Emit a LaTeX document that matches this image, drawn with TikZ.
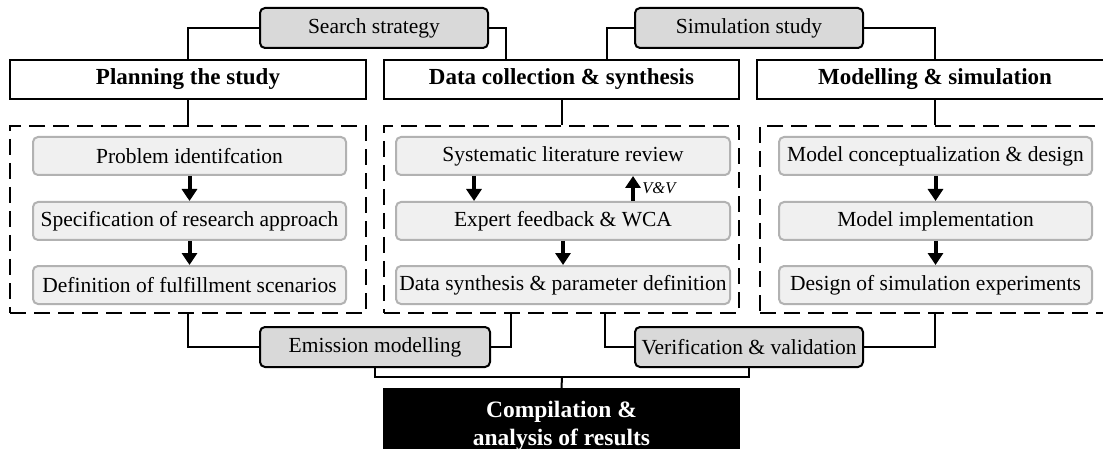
\documentclass[tikz,border=0pt]{standalone}
\usepackage{fontspec}
\setmainfont{Liberation Serif}
\usetikzlibrary{arrows.meta,calc}

\tikzset{
  topbox/.style={draw=black, line width=2pt, fill=gray!30, rounded corners=5pt,
    minimum width=228pt, minimum height=40pt, inner sep=0pt, font=\fontsize{21.5}{24}\selectfont},
  headbox/.style={draw=black, line width=2.5pt, fill=white,
    minimum height=39pt, inner sep=0pt, font=\bfseries\fontsize{23}{26}\selectfont},
  groupbox/.style={draw=black, line width=2.5pt, dash pattern=on 16pt off 8pt,
    minimum height=187pt, inner sep=0pt},
  stepbox/.style={draw=gray!60, line width=2pt, fill=gray!12, rounded corners=5pt,
    minimum height=38pt, inner sep=0pt, font=\fontsize{21.5}{24}\selectfont},
  link/.style={line width=2pt},
  flow/.style={line width=4pt, -{Triangle[width=15pt,length=12pt]}},
}

\begin{document}
\begin{tikzpicture}[x=1pt,y=-1pt]
\useasboundingbox (0,0) rectangle (1103,449);
\clip (0,0) rectangle (1103,449);

% upper linking boxes
\node[topbox] (search) at (374,28) {Search strategy};
\node[topbox] (simul) at (749,28) {Simulation study};

% phase headers
\node[headbox, minimum width=356pt] (h1) at (188,79.5) {Planning the study};
\node[headbox, minimum width=355pt] (h2) at (561.5,79.5) {Data collection \& synthesis};
\node[headbox, minimum width=356pt] (h3) at (935,79.5) {Modelling \& simulation};

% dashed phase groups
\node[groupbox, minimum width=356pt] (g1) at (188,219.5) {};
\node[groupbox, minimum width=355pt] (g2) at (561.5,219.5) {};
\node[groupbox, minimum width=350pt] (g3) at (935,219.5) {};

% planning steps
\node[stepbox, minimum width=313pt] (p1) at (189.5,156) {Problem identifcation};
\node[stepbox, minimum width=313pt] (p2) at (189.5,221) {Specification of research approach};
\node[stepbox, minimum width=313pt] (p3) at (189.5,285) {Definition of fulfillment scenarios};

% data steps
\node[stepbox, minimum width=334pt] (d1) at (563,156) {Systematic literature review};
\node[stepbox, minimum width=334pt] (d2) at (563,221) {Expert feedback \& WCA};
\node[stepbox, minimum width=334pt] (d3) at (563,285) {Data synthesis \& parameter definition};

% modelling steps
\node[stepbox, minimum width=313pt] (m1) at (935.5,156) {Model conceptualization \& design};
\node[stepbox, minimum width=313pt] (m2) at (935.5,221) {Model implementation};
\node[stepbox, minimum width=313pt] (m3) at (935.5,285) {Design of simulation experiments};

% lower linking boxes
\node[topbox, minimum width=230pt] (emis) at (375,347) {Emission modelling};
\node[topbox] (verif) at (749,347) {Verification \& validation};

% result box
\node[fill=black, text=white, minimum width=357pt, minimum height=76pt, inner sep=0pt,
  align=center, font=\bfseries\fontsize{23.5}{28}\selectfont] (res) at (561.5,426)
  {\raisebox{-3pt}{\parbox{357pt}{\centering Compilation \&\\analysis of results}}};

% named connector corners
\coordinate (sR) at ($(h2.north west)+(123,0)$);
\coordinate (vL) at ($(h2.north west)+(224,0)$);
\coordinate (eR) at ($(g2.south west)+(128,0)$);
\coordinate (wL) at ($(g2.south west)+(222,0)$);
\coordinate (jn) at (562,377);

% upper connectors
\draw[link] (search.west) -| (h1.north);
\draw[link] (search.east) -| (sR);
\draw[link] (simul.west) -| (vL);
\draw[link] (simul.east) -| (h3.north);

% header to group
\draw[link] (h1.south) -- (g1.north);
\draw[link] (h2.south) -- (g2.north);
\draw[link] (h3.south) -- (g3.north);

% step flows
\draw[flow] (d1.south -| 474,0) -- (d2.north -| 474,0);
\draw[flow] (d2.north -| 633,0) -- (d1.south -| 633,0)
  node[midway, right=4pt, font=\itshape\fontsize{16.5}{18}\selectfont] (vv) {V\&V};
\draw[flow] (p1.south) -- (p2.north);
\draw[flow] (p2.south) -- (p3.north);
\draw[flow] (d2.south) -- (d3.north);
\draw[flow] (m1.south) -- (m2.north);
\draw[flow] (m2.south) -- (m3.north);

% lower connectors
\draw[link] (g1.south) |- (emis.west);
\draw[link] (emis.east) -| (eR);
\draw[link] (verif.west) -| (wL);
\draw[link] (verif.east) -| (g3.south);
\draw[link] (emis.south) |- (jn) -| (verif.south);
\draw[link] (jn) -- (res.north);
\end{tikzpicture}
\end{document}
